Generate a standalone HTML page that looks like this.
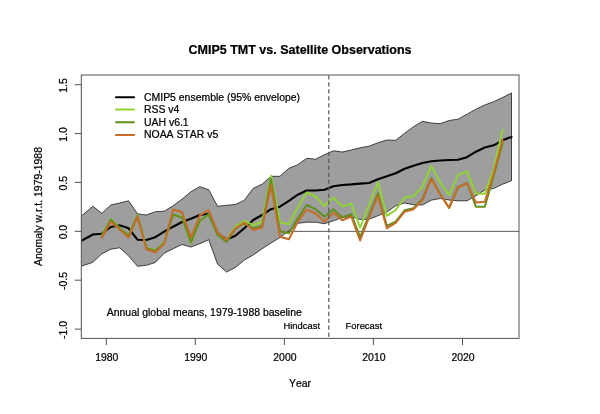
<!DOCTYPE html>
<html lang="en">
<head>
<meta charset="utf-8">
<title>CMIP5 TMT vs. Satellite Observations</title>
<style>
html,body{margin:0;padding:0;background:#fff;}
svg{display:block;}
text{font-kerning:none;stroke:#000;stroke-width:0.22px;}
</style>
</head>
<body>
<svg width="600" height="414" viewBox="0 0 600 414" font-family="'Liberation Sans', Arial, Helvetica, sans-serif" fill="#000">
<rect width="600" height="414" fill="#fff"/>
<defs><clipPath id="plotclip"><rect x="81.3" y="75.0" width="437.7" height="263.4"/></clipPath></defs>
<g clip-path="url(#plotclip)">
<line x1="81.3" y1="231.35" x2="519.0" y2="231.35" stroke="#222" stroke-width="0.75"/>
<polygon points="78.3,216.6 81.3,216.0 92.9,206.3 101.8,213.3 110.8,205.0 119.7,203.0 128.6,200.8 137.5,213.8 146.4,215.0 155.3,211.7 164.2,211.2 173.1,205.8 182.0,199.2 190.9,191.7 199.8,186.7 208.7,189.7 217.6,206.3 226.5,205.3 235.4,204.5 244.3,200.3 253.2,188.3 262.1,184.2 271.0,176.3 279.9,176.3 288.9,168.3 297.8,164.7 306.7,158.3 315.6,159.2 324.5,154.7 333.4,150.8 342.3,152.0 351.2,150.0 360.1,147.8 369.0,146.2 377.9,142.8 386.8,140.0 395.7,140.3 404.6,133.3 413.5,126.7 422.4,121.3 431.3,123.0 440.2,123.7 449.1,120.5 458.0,119.2 467.0,114.2 475.9,109.2 484.8,105.0 493.7,101.7 502.6,97.5 511.5,93.0 511.5,180.8 502.6,184.2 493.7,188.5 484.8,190.0 475.9,195.8 467.0,200.8 458.0,200.8 449.1,200.0 440.2,198.5 431.3,200.2 422.4,205.0 413.5,204.7 404.6,203.0 395.7,205.8 386.8,212.0 377.9,215.8 369.0,219.2 360.1,219.5 351.2,216.7 342.3,217.5 333.4,220.8 324.5,223.7 315.6,222.2 306.7,222.2 297.8,223.3 288.9,230.8 279.9,237.5 271.0,243.0 262.1,248.7 253.2,255.0 244.3,260.0 235.4,267.5 226.5,272.0 217.6,264.2 208.7,239.7 199.8,243.7 190.9,247.0 182.0,244.5 173.1,248.7 164.2,253.3 155.3,262.5 146.4,265.3 137.5,266.3 128.6,255.8 119.7,247.8 110.8,249.2 101.8,253.8 92.9,262.3 81.3,266.2 78.3,266.6" fill="#9e9e9e" stroke="#111" stroke-width="0.75" stroke-linejoin="round"/>
<polyline points="78.3,242.0 81.3,240.8 92.9,234.5 101.8,233.7 110.8,227.0 119.7,225.3 128.6,228.3 137.5,239.7 146.4,240.0 155.3,237.2 164.2,231.7 173.1,226.7 182.0,222.0 190.9,218.8 199.8,215.0 208.7,213.7 217.6,233.0 226.5,239.5 235.4,235.8 244.3,228.3 253.2,220.0 262.1,215.0 271.0,209.2 279.9,206.7 288.9,200.8 297.8,194.7 306.7,190.5 315.6,190.5 324.5,189.7 333.4,186.3 342.3,185.0 351.2,184.4 360.1,183.6 369.0,183.0 377.9,179.2 386.8,176.3 395.7,173.3 404.6,168.8 413.5,165.8 422.4,163.0 431.3,161.3 440.2,160.5 449.1,160.0 458.0,159.7 467.0,157.2 475.9,151.7 484.8,147.5 493.7,145.3 502.6,140.3 511.5,136.9" fill="none" stroke="#000" stroke-width="2.1" stroke-linejoin="round" stroke-linecap="round"/>
<polyline points="101.8,235.6 110.8,219.0 119.7,228.3 128.6,235.3 137.5,215.0 146.4,247.6 155.3,250.4 164.2,242.6 173.1,214.4 182.0,216.7 190.9,243.3 199.8,220.8 208.7,214.2 217.6,234.0 226.5,240.0 235.4,226.7 244.3,220.8 253.2,225.2 262.1,221.5 271.0,175.8 279.9,222.2 288.9,224.2 297.8,207.2 306.7,192.5 315.6,196.5 324.5,206.0 333.4,197.5 342.3,206.5 351.2,203.6 360.1,227.7 369.0,205.0 377.9,182.5 386.8,215.8 395.7,210.0 404.6,197.5 413.5,196.3 422.4,186.7 431.3,166.0 440.2,182.6 449.1,195.3 458.0,175.2 467.0,171.3 475.9,193.8 484.8,193.8 493.7,169.1 502.6,130.0" fill="none" stroke="#8fd433" stroke-width="2.0" stroke-linejoin="round" stroke-linecap="round"/>
<polyline points="101.8,236.0 110.8,219.5 119.7,228.5 128.6,235.5 137.5,215.5 146.4,248.0 155.3,251.0 164.2,243.0 173.1,214.5 182.0,217.5 190.9,242.5 199.8,220.8 208.7,214.2 217.6,235.0 226.5,242.0 235.4,229.0 244.3,223.0 253.2,228.3 262.1,226.0 271.0,179.0 279.9,231.3 288.9,233.3 297.8,218.3 306.7,205.0 315.6,209.2 324.5,216.8 333.4,209.2 342.3,217.5 351.2,214.2 360.1,236.8 369.0,215.5 377.9,193.3 386.8,225.8 395.7,221.7 404.6,210.3 413.5,208.3 422.4,199.0 431.3,178.0 440.2,194.0 449.1,208.0 458.0,187.0 467.0,183.0 475.9,206.7 484.8,206.7 493.7,175.8 502.6,143.0" fill="none" stroke="#61901f" stroke-width="2.0" stroke-linejoin="round" stroke-linecap="round"/>
<polyline points="101.8,237.8 110.8,221.7 119.7,229.5 128.6,237.5 137.5,216.7 146.4,249.2 155.3,252.5 164.2,243.7 173.1,209.5 182.0,212.3 190.9,237.5 199.8,215.4 208.7,210.0 217.6,232.5 226.5,240.0 235.4,228.3 244.3,222.7 253.2,230.0 262.1,227.5 271.0,185.0 279.9,236.7 288.9,239.2 297.8,221.7 306.7,209.7 315.6,213.5 324.5,221.7 333.4,212.7 342.3,220.3 351.2,216.5 360.1,240.5 369.0,217.5 377.9,195.8 386.8,228.3 395.7,223.0 404.6,211.7 413.5,209.2 422.4,200.0 431.3,179.0 440.2,194.6 449.1,207.5 458.0,187.5 467.0,183.2 475.9,202.5 484.8,201.7 493.7,173.3 502.6,140.0" fill="none" stroke="#c66c29" stroke-width="2.0" stroke-linejoin="round" stroke-linecap="round"/>
<line x1="328.8" y1="75.4" x2="328.8" y2="338.4" stroke="#555" stroke-width="1.2" stroke-dasharray="4.2,2.75"/>
</g>
<rect x="81.3" y="75.0" width="437.7" height="263.4" fill="none" stroke="#525252" stroke-width="1"/>
<line x1="74.8" y1="84.7" x2="81.3" y2="84.7" stroke="#525252" stroke-width="1"/>
<text transform="translate(66.9,85.5) rotate(-90)" text-anchor="middle" font-size="10.45">1.5</text>
<line x1="74.8" y1="133.6" x2="81.3" y2="133.6" stroke="#525252" stroke-width="1"/>
<text transform="translate(66.9,134.4) rotate(-90)" text-anchor="middle" font-size="10.45">1.0</text>
<line x1="74.8" y1="182.4" x2="81.3" y2="182.4" stroke="#525252" stroke-width="1"/>
<text transform="translate(66.9,183.2) rotate(-90)" text-anchor="middle" font-size="10.45">0.5</text>
<line x1="74.8" y1="231.3" x2="81.3" y2="231.3" stroke="#525252" stroke-width="1"/>
<text transform="translate(66.9,232.1) rotate(-90)" text-anchor="middle" font-size="10.45">0.0</text>
<line x1="74.8" y1="280.2" x2="81.3" y2="280.2" stroke="#525252" stroke-width="1"/>
<text transform="translate(66.9,281.0) rotate(-90)" text-anchor="middle" font-size="10.45">-0.5</text>
<line x1="74.8" y1="329.1" x2="81.3" y2="329.1" stroke="#525252" stroke-width="1"/>
<text transform="translate(66.9,329.9) rotate(-90)" text-anchor="middle" font-size="10.45">-1.0</text>
<line x1="106.3" y1="338.4" x2="106.3" y2="345.0" stroke="#525252" stroke-width="1"/>
<text x="106.8" y="361.4" text-anchor="middle" font-size="10.45">1980</text>
<line x1="195.3" y1="338.4" x2="195.3" y2="345.0" stroke="#525252" stroke-width="1"/>
<text x="195.8" y="361.4" text-anchor="middle" font-size="10.45">1990</text>
<line x1="284.4" y1="338.4" x2="284.4" y2="345.0" stroke="#525252" stroke-width="1"/>
<text x="284.9" y="361.4" text-anchor="middle" font-size="10.45">2000</text>
<line x1="373.4" y1="338.4" x2="373.4" y2="345.0" stroke="#525252" stroke-width="1"/>
<text x="373.9" y="361.4" text-anchor="middle" font-size="10.45">2010</text>
<line x1="462.5" y1="338.4" x2="462.5" y2="345.0" stroke="#525252" stroke-width="1"/>
<text x="463.0" y="361.4" text-anchor="middle" font-size="10.45">2020</text>
<text x="300" y="53.9" text-anchor="middle" font-size="12.5" font-weight="bold">CMIP5 TMT vs. Satellite Observations</text>
<text x="300" y="386.5" text-anchor="middle" font-size="10.45">Year</text>
<text transform="translate(41.6,206.5) rotate(-90)" text-anchor="middle" font-size="10.45">Anomaly w.r.t. 1979-1988</text>
<line x1="116" y1="97.2" x2="134" y2="97.2" stroke="#000" stroke-width="2.1" stroke-linecap="round"/>
<text x="144" y="100.5" font-size="10.45">CMIP5 ensemble (95% envelope)</text>
<line x1="116" y1="109.6" x2="134" y2="109.6" stroke="#8fd433" stroke-width="2.0" stroke-linecap="round"/>
<text x="144" y="112.9" font-size="10.45">RSS v4</text>
<line x1="116" y1="122.3" x2="134" y2="122.3" stroke="#61901f" stroke-width="2.0" stroke-linecap="round"/>
<text x="144" y="125.6" font-size="10.45">UAH v6.1</text>
<line x1="116" y1="134.9" x2="134" y2="134.9" stroke="#c66c29" stroke-width="2.0" stroke-linecap="round"/>
<text x="144" y="138.2" font-size="10.45">NOAA STAR v5</text>
<text x="106.8" y="316" font-size="10.45">Annual global means, 1979-1988 baseline</text>
<text x="320" y="328.9" text-anchor="end" font-size="9.4">Hindcast</text>
<text x="345.6" y="328.9" font-size="9.4">Forecast</text>
</svg>
</body>
</html>
